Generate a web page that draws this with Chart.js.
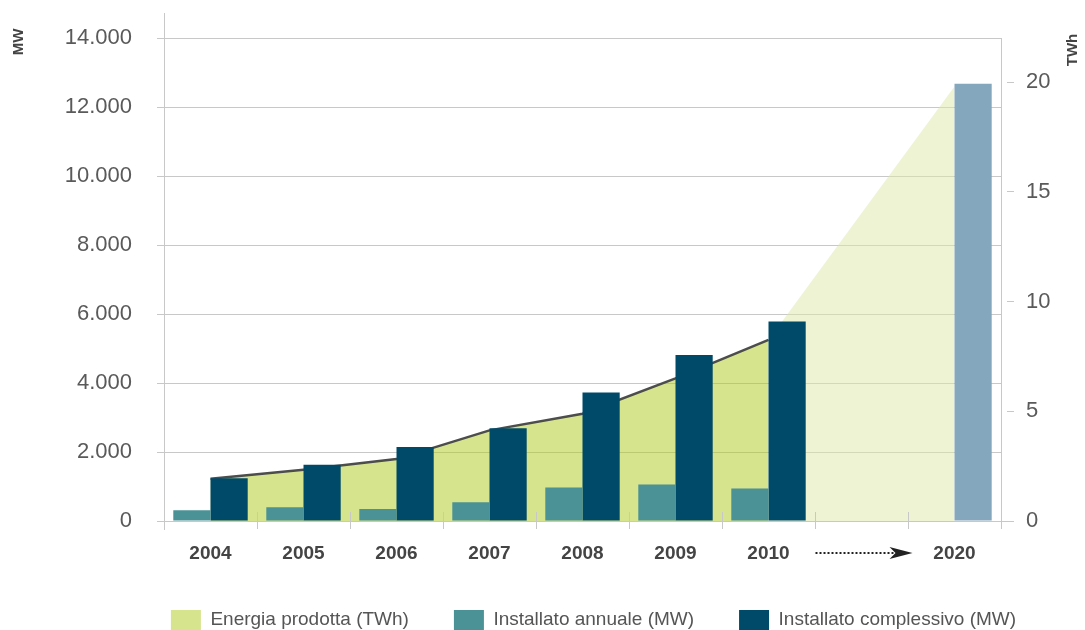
<!DOCTYPE html>
<html lang="it">
<head>
<meta charset="utf-8">
<title>Eolico in Italia</title>
<script src="https://cdn.jsdelivr.net/npm/chart.js@4.4.1/dist/chart.umd.min.js"></script>
<style>
  html, body { margin: 0; padding: 0; background: #fff; overflow: hidden; }
  #wrap { position: relative; width: 1085px; height: 640px; }
</style>
</head>
<body>
<div id="wrap"><canvas id="windChart"></canvas></div>
<script>
// Eolico in Italia: potenza installata (MW) ed energia prodotta (TWh)

const anni = ['2004', '2005', '2006', '2007', '2008', '2009', '2010', '', '2020'];
const installatoAnnuale = [315, 400, 345, 545, 975, 1060, 945, null, null];
const installatoComplessivo = [1240, 1633, 2148, 2693, 3724, 4812, 5786, null, 12680];
const energiaProdotta = [1.93, 2.33, 2.82, 4.13, 4.89, 6.5, 8.25, null, null];
const energiaObiettivo2020 = 19.8;
const tickMW = [0, 2000, 4000, 6000, 8000, 10000, 12000, 14000];
const tickTWh = [0, 5, 10, 15, 20];

const FONT = "'Liberation Sans', Arial, sans-serif";
const GRIGIO = '#c8c8c8';
const coloriLegenda = ['#d6e48e', '#4a9296', '#004a69'];

// tratto 2010 -> 2020 (area chiara)
const energiaPrevista = anni.map((a, i) => {
    if (a === '2010') return energiaProdotta[i];
    if (a === '2020') return energiaObiettivo2020;
    return null;
});
const coloriComplessivo = anni.map(a => a === '2020' ? '#85a7bd' : '#004a69');

function formatMW(v) {
    return String(v).replace(/\B(?=(\d{3})+(?!\d))/g, '.');
}

// linee, trattini, freccia e titoli degli assi
const decorPlugin = {
    id: 'decor',
    afterLayout(chart) {
        // sposta la legenda come nell'originale
        chart.legend.left += 51;
        chart.legend.right += 51;
    },
    afterDraw(chart) {
        const {ctx, chartArea} = chart;
        const x = chart.scales.x;
        const top = chartArea.top, bottom = chartArea.bottom;
        const left = chartArea.left, right = chartArea.right;
        ctx.save();
        ctx.strokeStyle = GRIGIO;
        ctx.lineWidth = 1;
        ctx.beginPath();
        const lx = Math.round(left) + 0.5;
        ctx.moveTo(lx, 13);
        ctx.lineTo(lx, top);
        ctx.moveTo(lx, bottom);
        ctx.lineTo(lx, bottom + 9);
        const by = Math.round(bottom) + 0.5;
        ctx.moveTo(right, by);
        ctx.lineTo(right + 9, by);
        for (let i = 1; i <= anni.length; i++) {
            let bx;
            if (i === anni.length) bx = right;
            else bx = (x.getPixelForValue(i - 1) + x.getPixelForValue(i)) / 2;
            bx = Math.round(bx) + 0.5;
            ctx.moveTo(bx, bottom - 9);
            ctx.lineTo(bx, bottom + 8);
        }
        ctx.stroke();

        // freccia tratteggiata 2010 -> 2020
        const c = x.getPixelForValue(7);
        const ay = 553;
        ctx.strokeStyle = '#222';
        ctx.fillStyle = '#222';
        ctx.lineWidth = 2;
        ctx.setLineDash([2, 2]);
        ctx.beginPath();
        ctx.moveTo(c - 46, ay);
        ctx.lineTo(c + 32, ay);
        ctx.stroke();
        ctx.setLineDash([]);
        ctx.beginPath();
        ctx.moveTo(c + 51, ay);
        ctx.lineTo(c + 28, ay - 6);
        ctx.lineTo(c + 34, ay);
        ctx.lineTo(c + 28, ay + 6);
        ctx.closePath();
        ctx.fill();

        // titoli assi
        ctx.fillStyle = '#444';
        ctx.font = 'bold 15px ' + FONT;
        ctx.textAlign = 'center';
        ctx.textBaseline = 'middle';
        ctx.translate(19, 42);
        ctx.rotate(-Math.PI / 2);
        ctx.fillText('MW', 0, 0);
        ctx.setTransform(1, 0, 0, 1, 0, 0);
        ctx.translate(1073, 50);
        ctx.rotate(-Math.PI / 2);
        ctx.fillText('TWh', 0, 0);
        ctx.restore();
    }
};

const ctx = document.getElementById('windChart').getContext('2d');
const windChart = new Chart(ctx, {
    type: 'bar',
    data: {
        labels: anni,
        datasets: [{
            type: 'line',
            label: 'Energia prodotta (TWh)',
            data: energiaProdotta,
            yAxisID: 'y1',
            borderColor: '#4d4d4d',
            borderWidth: 2.5,
            backgroundColor: 'rgba(173, 201, 29, 0.5)',
            fill: 'origin',
            pointRadius: 0,
            tension: 0,
            order: 2
        }, {
            label: 'Installato annuale (MW)',
            data: installatoAnnuale,
            yAxisID: 'y',
            backgroundColor: '#4a9296',
            barPercentage: 1,
            categoryPercentage: 0.8,
            order: 1
        }, {
            label: 'Installato complessivo (MW)',
            data: installatoComplessivo,
            yAxisID: 'y',
            backgroundColor: coloriComplessivo,
            barPercentage: 1,
            categoryPercentage: 0.8,
            order: 1
        }, {
            type: 'line',
            label: 'Energia prevista (TWh)',
            data: energiaPrevista,
            yAxisID: 'y1',
            borderWidth: 0,
            borderColor: 'rgba(0,0,0,0)',
            backgroundColor: 'rgba(221, 231, 169, 0.5)',
            fill: 'origin',
            spanGaps: true,
            pointRadius: 0,
            tension: 0,
            order: 3
        }]
    },
    options: {
        responsive: true,
        maintainAspectRatio: false,
        animation: false,
        layout: { padding: { top: 32, left: 0, right: 0, bottom: 0 } },
        plugins: {
            tooltip: { enabled: false },
            legend: {
                position: 'bottom',
                align: 'center',
                labels: {
                    boxWidth: 30,
                    boxHeight: 20,
                    padding: 45,
                    color: '#555',
                    font: { family: FONT, size: 19 },
                    generateLabels(chart) {
                        const items = Chart.defaults.plugins.legend.labels.generateLabels(chart);
                        return items
                            .filter(it => it.datasetIndex < 3)
                            .sort((a, b) => a.datasetIndex - b.datasetIndex)
                            .map(it => Object.assign(it, {
                                fillStyle: coloriLegenda[it.datasetIndex],
                                strokeStyle: 'rgba(0,0,0,0)',
                                lineWidth: 0
                            }));
                    }
                }
            }
        },
        scales: {
            x: {
                offset: true,
                grid: { display: false, drawTicks: false },
                border: { display: true, color: GRIGIO },
                ticks: {
                    color: '#444',
                    padding: 21,
                    maxRotation: 0,
                    autoSkip: false,
                    font: { family: FONT, size: 19, weight: 'bold' }
                },
                afterFit(scale) { scale.height = 44; }
            },
            y: {
                position: 'left',
                min: 0,
                max: 14000,
                grid: { color: GRIGIO, tickLength: 7 },
                border: { display: true, color: GRIGIO },
                ticks: {
                    color: '#5a5a5a',
                    padding: 25,
                    font: { family: FONT, size: 22 },
                    callback: v => formatMW(v)
                },
                afterBuildTicks(scale) { scale.ticks = tickMW.map(v => ({ value: v })); },
                afterFit(scale) { scale.width = 164; }
            },
            y1: {
                position: 'right',
                min: 0,
                max: 22,
                grid: {
                    drawOnChartArea: false,
                    color: GRIGIO,
                    tickLength: 13,
                    tickBorderDash: [0, 5, 8, 40]
                },
                border: { display: true, color: GRIGIO },
                ticks: {
                    color: '#5a5a5a',
                    padding: 12,
                    font: { family: FONT, size: 22 }
                },
                afterBuildTicks(scale) { scale.ticks = tickTWh.map(v => ({ value: v })); },
                afterFit(scale) { scale.width = 84; }
            }
        }
    },
    plugins: [decorPlugin]
});
</script>
</body>
</html>
